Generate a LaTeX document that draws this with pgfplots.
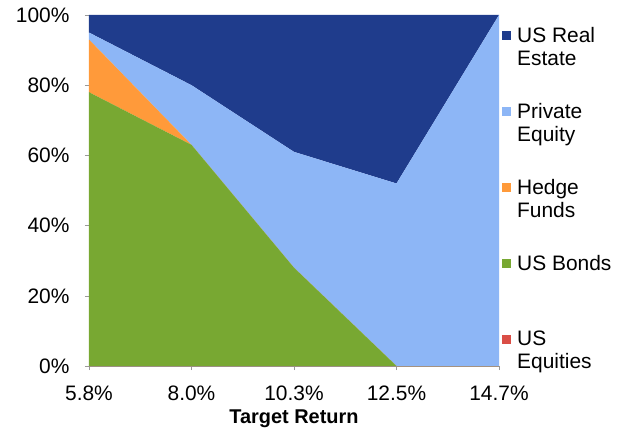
\documentclass[border=0pt]{standalone}
\usepackage{fontspec}
\setmainfont{Liberation Sans}
\usepackage{pgfplots}
\pgfplotsset{compat=1.18}

\definecolor{cEq}{RGB}{218,78,70}
\definecolor{cBond}{RGB}{120,168,50}
\definecolor{cHedge}{RGB}{255,154,58}
\definecolor{cPE}{RGB}{141,182,246}
\definecolor{cRE}{RGB}{31,60,140}

\begin{document}
\begin{tikzpicture}
\begin{axis}[
  scale only axis,
  width=410bp, height=351bp,
  xmin=0, xmax=4, ymin=0, ymax=100,
  stack plots=y,
  axis lines*=left,
  axis line style={draw=gray!80},
  tick align=outside,
  major tick length=4bp,
  tick style={draw=gray!80},
  xtick={0,1,2,3,4},
  xticklabels={5.8\%,8.0\%,10.3\%,12.5\%,14.7\%},
  ytick={0,20,40,60,80,100},
  yticklabels={0\%,20\%,40\%,60\%,80\%,100\%},
  ticklabel style={font=\fontsize{21}{23}\selectfont},
  yticklabel style={xshift=-12bp},
  xticklabel style={yshift=-12bp},
  xlabel={Target Return},
  xlabel style={font=\fontsize{20}{22}\selectfont\bfseries, yshift=-3bp},
  reverse legend,
  legend style={at={(1,1)}, anchor=north west, xshift=3bp, yshift=-9bp,
    draw=none, fill=none, inner sep=0pt, row sep=31.5bp, column sep=4bp,
    font=\fontsize{21}{23}\selectfont,
    cells={anchor=west, align=left}},
  legend image code/.code={\fill[#1] (0bp,6bp) rectangle (9bp,15bp);},
  every axis plot/.append style={draw=none},
]
\addplot[fill=cEq] coordinates {(0,0) (1,0) (2,0) (3,0) (4,0)} \closedcycle;
\addlegendentry{\strut US\\\strut Equities}
\addplot[fill=cBond] coordinates {(0,78) (1,63) (2,28) (3,0) (4,0)} \closedcycle;
\addlegendentry{\strut US Bonds\\\strut}
\addplot[fill=cHedge] coordinates {(0,15) (1,0) (2,0) (3,0) (4,0)} \closedcycle;
\addlegendentry{\strut Hedge\\\strut Funds}
\addplot[fill=cPE] coordinates {(0,2) (1,17) (2,33) (3,52) (4,100)} \closedcycle;
\addlegendentry{\strut Private\\\strut Equity}
\addplot[fill=cRE] coordinates {(0,5) (1,20) (2,39) (3,48) (4,0)} \closedcycle;
\addlegendentry{\strut US Real\\\strut Estate}
\end{axis}
\pgfresetboundingbox
\path (-89bp,-64bp) rectangle (534bp,366bp);
\end{tikzpicture}
\end{document}
